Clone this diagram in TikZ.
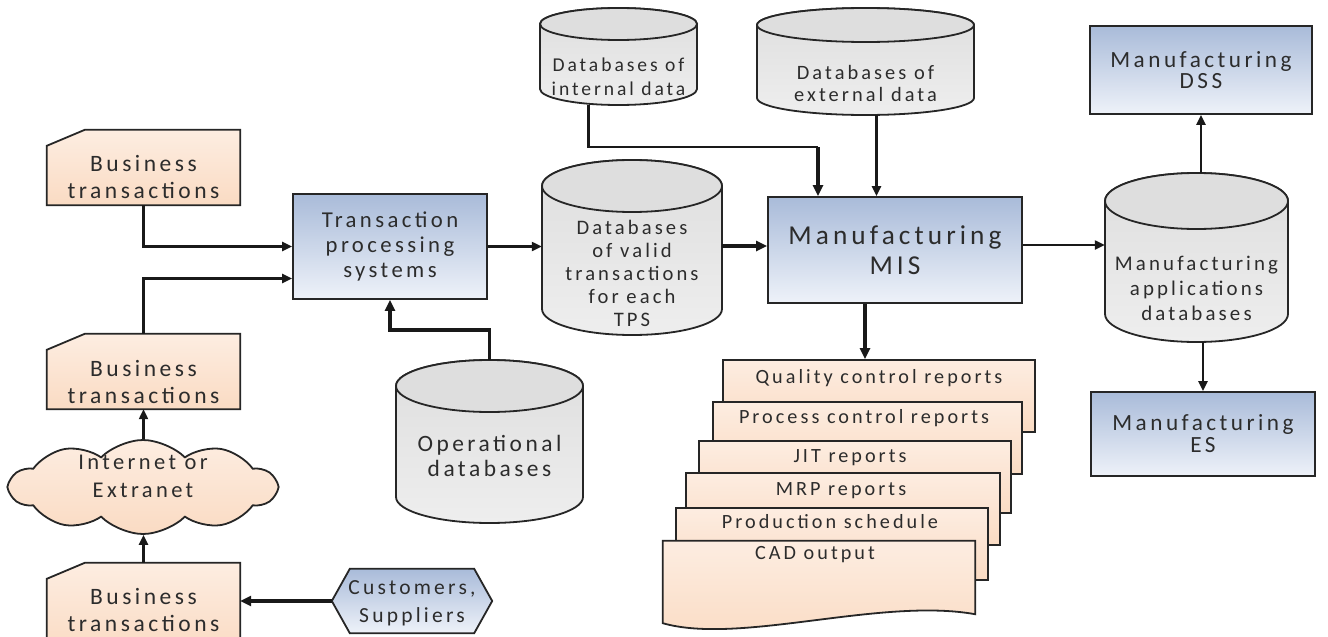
\documentclass[tikz,border=0pt]{standalone}
\usepackage{fontspec}
\setmainfont{Carlito}[LetterSpace=15]
\usetikzlibrary{arrows.meta,shapes.symbols,calc}
\definecolor{peachT}{HTML}{FDEDE1}
\definecolor{peachB}{HTML}{FADBC3}
\definecolor{blueT}{HTML}{A9BBD9}
\definecolor{blueB}{HTML}{EEF2F9}
\definecolor{grayT}{HTML}{DEDEDE}
\definecolor{grayB}{HTML}{EEEEEE}
\definecolor{txt}{HTML}{2C2C2C}
\tikzset{
 fs/.style 2 args={font=\fontsize{#1}{#2}\selectfont},
 lbl/.style={align=center, inner sep=0pt, text=txt},
 shape0/.style={rectangle, draw=none, fill=none, inner sep=0pt},
 bluebox/.style={rectangle, draw=black!85, line width=1.8pt, top color=blueT, bottom color=blueB, inner sep=0pt, align=center, text=txt},
 peachfill/.style={draw=black!85, line width=1.8pt, top color=peachT, bottom color=peachB},
 repbox/.style={rectangle, draw=black!85, line width=1.8pt, top color=peachT, bottom color=peachB, inner sep=0pt},
 dbbody/.style={draw=black!85, line width=1.8pt, top color=grayT, bottom color=grayB},
 dbtop/.style={draw=black!85, line width=1.8pt, fill=grayT},
 conn/.style={draw=black!90, line width=2.2pt, -{Triangle[length=10pt,width=9pt]}},
 thickconn/.style={draw=black!90, line width=3.4pt, -{Triangle[length=11pt,width=10pt]}},
 plain/.style={draw=black!90, line width=2.2pt},
}
\newcommand\dbcyl[9]{%
 \pgfmathsetmacro\cylcx{(#2+#4)/2}%
 \pgfmathsetmacro\cylrx{(#4-#2)/2}%
 \pgfmathsetmacro\cylyt{#3+#6}%
 \pgfmathsetmacro\cylyb{#5-#6}%
 \pgfmathsetmacro\cylcy{(#3+#5)/2}%
 \pgfmathsetmacro\cylw{#4-#2}%
 \pgfmathsetmacro\cylh{#5-#3}%
 \node[shape0, minimum width=\cylw pt, minimum height=\cylh pt] (#1) at (\cylcx,\cylcy) {};
 \path[dbbody] (#2,\cylyt) -- (#2,\cylyb) arc[start angle=180, end angle=0, x radius=\cylrx, y radius=#6] -- (#4,\cylyt) arc[start angle=0, end angle=-180, x radius=\cylrx, y radius=#6] -- cycle;
 \path[dbtop] (\cylcx,\cylyt) ellipse[x radius=\cylrx, y radius=#6];
 \node[lbl, #8] (#1-t) at (\cylcx,#7) {#9};
}
\newcommand\btbox[4]{% name, center, height, text center y
 \node[shape0, minimum width=193pt, minimum height=#3pt] (#1) at (#2) {};
 \path[peachfill] ([yshift=-16pt]#1.north west) -- ([xshift=38pt]#1.north west) -- (#1.north east) -- (#1.south east) -- (#1.south west) -- cycle;
 \node[lbl, fs={23.5}{27}] (#1-t) at (143.5,#4) {Business\\transactions};
}
\begin{document}
\begin{tikzpicture}[x=1pt,y=-1pt]
\useasboundingbox (0,0) rectangle (1328,637);
\clip (0,0) rectangle (1328,637);
\fill[white] (0,0) rectangle (1328,637);

% business transactions
\btbox{bt1}{143.5,167.5}{75}{177}
\btbox{bt2}{143.5,371.5}{75}{381.5}
\btbox{bt3}{143.5,608}{90}{609.5}

% cloud
\node[cloud, cloud puffs=10, cloud puff arc=90, aspect=3, draw=black!85, line width=1.8pt, top color=peachT, bottom color=peachB, minimum width=266pt, minimum height=94pt, inner sep=0pt] (cloud) at (143,487) {};
\node[lbl, fs={22.5}{28}] (cloud-t) at (143,476) {Internet or\\Extranet};

% customers hexagon
\node[shape0, minimum width=160pt, minimum height=64pt] (cust) at (412,601) {};
\path[draw=black!85, line width=1.8pt, top color=blueT, bottom color=blueB] (cust.west) -- ([xshift=18pt]cust.north west) -- ([xshift=-18pt]cust.north east) -- (cust.east) -- ([xshift=-18pt]cust.south east) -- ([xshift=18pt]cust.south west) -- cycle;
\node[lbl, fs={21.5}{28}] (cust-t) at (412,603.5) {Customers,\\Suppliers};

% blue boxes
\node[bluebox, fs={22.7}{25}, minimum width=194pt, minimum height=105pt] (tps) at (390,246.5) {Transaction\\processing\\systems};
\node[bluebox, fs={27.3}{30}, minimum width=254pt, minimum height=106pt] (mis) at (895,250) {Manufacturing\\MIS};
\node[bluebox, fs={23.2}{21}, minimum width=222pt, minimum height=88pt] (dss) at (1201,70) {Manufacturing\\DSS};
\node[bluebox, fs={23.2}{22}, minimum width=224pt, minimum height=84pt] (es) at (1203,434) {Manufacturing\\ES};

% databases
\dbcyl{valid}{542}{160}{722}{335}{26}{273}{fs={20.6}{23}}{Databases\\of valid\\transactions\\for each\\TPS}
\dbcyl{int}{540}{8}{697}{105}{16}{77}{fs={19.6}{24}}{Databases of\\internal data}
\dbcyl{ext}{757}{8}{974}{115}{17}{83}{fs={20.4}{22}}{Databases of\\external data}
\dbcyl{apps}{1105}{173}{1288}{342}{28}{288}{fs={20.9}{25}}{Manufacturing\\applications\\databases}
\dbcyl{op}{396}{360}{583}{523}{26}{456}{fs={23.4}{25}}{Operational\\databases}

% reports
\node[repbox, minimum width=312pt, minimum height=72pt] (q) at (879,396) {};
\node[lbl, fs={20.2}{22}] (q-t) at (879,378) {Quality control reports};
\node[repbox, minimum width=309pt, minimum height=72pt] (pc) at (867.5,438) {};
\node[lbl, fs={20.2}{22}] (pc-t) at (864,418) {Process control reports};
\node[repbox, minimum width=312pt, minimum height=72pt] (jit) at (855,477) {};
\node[lbl, fs={20.2}{22}] (jit-t) at (850,458) {JIT reports};
\node[repbox, minimum width=314pt, minimum height=72pt] (mrp) at (843,509) {};
\node[lbl, fs={20.2}{22}] (mrp-t) at (841,491) {MRP reports};
\node[repbox, minimum width=312pt, minimum height=72pt] (prod) at (832,544) {};
\node[lbl, fs={20.2}{22}] (prod-t) at (830,522) {Production schedule};
\node[shape0, minimum width=312pt, minimum height=82pt] (cad) at (819,582) {};
\path[peachfill] (cad.north west) -- (cad.north east) -- ([yshift=9pt]cad.south east) .. controls ($(cad.south)+(61,-26)$) and ($(cad.south)+(-79,22)$) .. (cad.south west) -- cycle;
\node[lbl, fs={20.2}{22}] (cad-t) at (815,555) {CAD output};

% connectors
\draw[conn] (bt1.south) |- (tps.west);
\draw[conn] (bt2.north) |- ([yshift=-32pt]tps.west);
\draw[conn] (bt2.south |- cloud.north) -- (bt2.south);
\draw[conn] (bt3.north) -- (bt3.north |- cloud.south);
\draw[thickconn] (cust.west) -- (cust.west -| bt3.east);
\draw[thickconn] (op.north) -- ++(0,-30) -| (tps.south);
\draw[conn] (tps.east) -- (tps.east -| valid.west);
\draw[thickconn] ([yshift=4pt]mis.west -| valid.east) -- ([yshift=4pt]mis.west);
\coordinate (ic) at ([xshift=-77pt,yshift=49pt]mis.north);
\draw[plain] ([xshift=-30pt]int.south) |- (ic);
\draw[thickconn] (ic) -- (ic |- mis.north);
\draw[conn] ([xshift=11pt]ext.south) -- ([xshift=11pt]ext.south |- mis.north);
\draw[conn] ([yshift=5pt]mis.east) -- ([yshift=5pt]mis.east -| apps.west);
\draw[conn] (apps.north -| dss.south) -- (dss.south);
\draw[conn] (es.north |- apps.south) -- (es.north);
\draw[thickconn] ([xshift=-30pt]mis.south) -- ([xshift=-30pt]mis.south |- q.north);
\end{tikzpicture}
\end{document}
